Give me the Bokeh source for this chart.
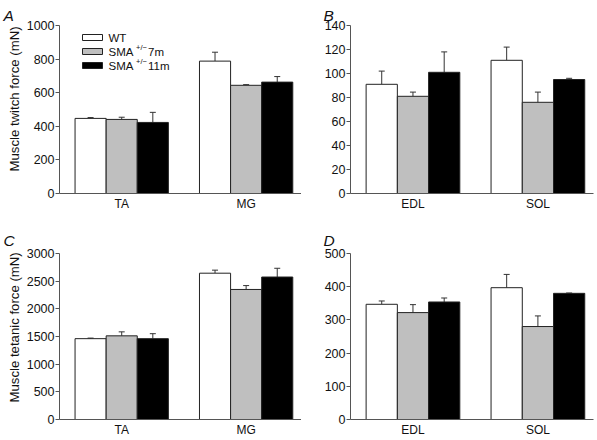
from bokeh.plotting import figure
from bokeh.models import ColumnDataSource, Whisker, TeeHead, FixedTicker, Range1d, Label, Title
from bokeh.layouts import column, row
from bokeh.embed import file_html
from bokeh.resources import INLINE

# ---------------- data ----------------
series_names = ["WT", "SMA 7m", "SMA 11m"]
series_colors = ["#ffffff", "#bfbfbf", "#000000"]

a_cats = ["TA", "MG"]
a_wt = [447, 788]
a_wt_err = [5, 53]
a_7m = [441, 644]
a_7m_err = [13, 4]
a_11m = [423, 663]
a_11m_err = [60, 33]
a_ticks = [0, 200, 400, 600, 800, 1000]

b_cats = ["EDL", "SOL"]
b_wt = [91, 111]
b_wt_err = [11, 11]
b_7m = [81, 76]
b_7m_err = [3.5, 8.5]
b_11m = [101, 95]
b_11m_err = [17, 1]
b_ticks = [0, 20, 40, 60, 80, 100, 120, 140]

c_cats = ["TA", "MG"]
c_wt = [1461, 2644]
c_wt_err = [10, 55]
c_7m = [1512, 2350]
c_7m_err = [72, 70]
c_11m = [1461, 2575]
c_11m_err = [90, 158]
c_ticks = [0, 500, 1000, 1500, 2000, 2500, 3000]

d_cats = ["EDL", "SOL"]
d_wt = [347, 397]
d_wt_err = [10, 40]
d_7m = [322, 280]
d_7m_err = [24, 32]
d_11m = [354, 380]
d_11m_err = [12, 1]
d_ticks = [0, 100, 200, 300, 400, 500]

FONT = "Liberation Sans"
XR = (-0.5, 1.445)
BAR_W = 0.25


def make_panel(letter, letter_offset, letter_standoff, cats, means, errs, ticks,
               width, height, bl, br, bt, bb, ylabel=None, ylabel_offset=0):
    p = figure(width=width, height=height, output_backend="svg", toolbar_location=None,
               x_range=Range1d(*XR), y_range=Range1d(ticks[0], ticks[-1]),
               min_border_left=bl, min_border_right=br, min_border_top=bt, min_border_bottom=bb)
    p.outline_line_color = None
    p.xgrid.visible = False
    p.ygrid.visible = False
    p.background_fill_color = "white"
    p.border_fill_color = "white"

    # panel letter as the title
    p.title.text = letter
    p.title.align = "left"
    p.title.offset = letter_offset
    p.title.standoff = letter_standoff
    p.title.text_font = FONT
    p.title.text_font_size = "15.5px"
    p.title.text_font_style = "italic"
    p.title.text_color = "#111111"

    offsets = [-BAR_W, 0.0, BAR_W]
    for k in range(3):
        xs = [i + offsets[k] for i in range(len(cats))]
        tops = [m + e for m, e in zip(means[k], errs[k])]
        src = ColumnDataSource(dict(x=xs, top=means[k], up=tops))
        p.vbar(x="x", top="top", bottom=0, width=BAR_W, source=src,
               fill_color=series_colors[k], line_color="#222222", line_width=1)
        w = Whisker(base="x", lower="top", upper="up", source=src, dimension="height",
                    line_color="#333333", line_width=1,
                    upper_head=TeeHead(size=6, line_color="#333333", line_width=1),
                    lower_head=None)
        p.add_layout(w)

    xa = p.xaxis[0]
    xa.ticker = FixedTicker(ticks=list(range(len(cats))))
    xa.major_label_overrides = {i: c for i, c in enumerate(cats)}
    xa.major_tick_line_color = None
    xa.major_tick_out = 0
    xa.major_tick_in = 0
    xa.minor_tick_line_color = None
    xa.axis_line_color = "#555555"
    xa.major_label_text_font = FONT
    xa.major_label_text_font_size = "12px"
    xa.major_label_text_color = "#111111"
    xa.major_label_standoff = 3

    ya = p.yaxis[0]
    ya.ticker = FixedTicker(ticks=ticks)
    ya.major_tick_out = 4
    ya.major_tick_in = 0
    ya.minor_tick_line_color = None
    ya.axis_line_color = "#555555"
    ya.major_tick_line_color = "#555555"
    ya.major_label_text_font = FONT
    ya.major_label_text_font_size = "12.5px"
    ya.major_label_text_color = "#111111"
    ya.major_label_standoff = 1
    if ylabel:
        t = Title(text=ylabel, align="left", offset=ylabel_offset, standoff=3,
                  text_font=FONT, text_font_size="13.2px", text_font_style="normal",
                  text_color="#111111")
        p.add_layout(t, "left")

    frame_w = width - bl - br
    frame_h = height - bt - bb
    return p, frame_w, frame_h


pA, fwA, fhA = make_panel("A", -56, 4, a_cats, [a_wt, a_7m, a_11m], [a_wt_err, a_7m_err, a_11m_err],
                          a_ticks, 301, 220, 59, 0, 25, 27, "Muscle twitch force (mN)", 22)
pB, _, _ = make_panel("B", -27, 4, b_cats, [b_wt, b_7m, b_11m], [b_wt_err, b_7m_err, b_11m_err],
                      b_ticks, 295, 220, 49, 3, 25, 27)
pC, _, _ = make_panel("C", -56, 10, c_cats, [c_wt, c_7m, c_11m], [c_wt_err, c_7m_err, c_11m_err],
                      c_ticks, 301, 219, 59, 0, 33, 17, "Muscle tetanic force (mN)", 17)
pD, _, _ = make_panel("D", -27, 10, d_cats, [d_wt, d_7m, d_11m], [d_wt_err, d_7m_err, d_11m_err],
                      d_ticks, 295, 219, 49, 3, 33, 17)

# ---------------- legend in panel A (positioned in pixels from the frame's top-left) ----------------
xspan = XR[1] - XR[0]
yspan = a_ticks[-1] - a_ticks[0]
px_x = xspan / fwA
px_y = yspan / fhA
box_x0 = XR[0] + 23 * px_x
box_x1 = XR[0] + 43 * px_x
text_x = XR[0] + 49 * px_x
row_y = [a_ticks[-1] - (12 + 14 * i) * px_y for i in range(3)]
half_h = 3 * px_y

leg_src = ColumnDataSource(dict(
    left=[box_x0] * 3, right=[box_x1] * 3,
    bottom=[y - half_h for y in row_y], top=[y + half_h for y in row_y],
    color=series_colors))
pA.quad(left="left", right="right", bottom="bottom", top="top", fill_color="color",
        line_color="#222222", line_width=1, source=leg_src)

legend_main = ["WT", "SMA", "SMA"]
legend_sup = ["", "+/\u2212", "+/\u2212"]
legend_tail = ["", "7m", "11m"]
for i in range(3):
    pA.add_layout(Label(x=text_x, y=row_y[i], text=legend_main[i], text_font=FONT,
                        text_font_size="11.5px", text_color="#111111", text_baseline="middle"))
    if legend_sup[i]:
        pA.add_layout(Label(x=text_x, y=row_y[i], x_offset=27.5, y_offset=4, text=legend_sup[i],
                            text_font=FONT, text_font_size="7.5px", text_color="#111111",
                            text_baseline="middle"))
        pA.add_layout(Label(x=text_x, y=row_y[i], x_offset=39.5, text=legend_tail[i],
                            text_font=FONT, text_font_size="11.5px", text_color="#111111",
                            text_baseline="middle"))

layout = column(row(pA, pB), row(pC, pD))
open("out.html", "w").write(file_html(layout, INLINE))
